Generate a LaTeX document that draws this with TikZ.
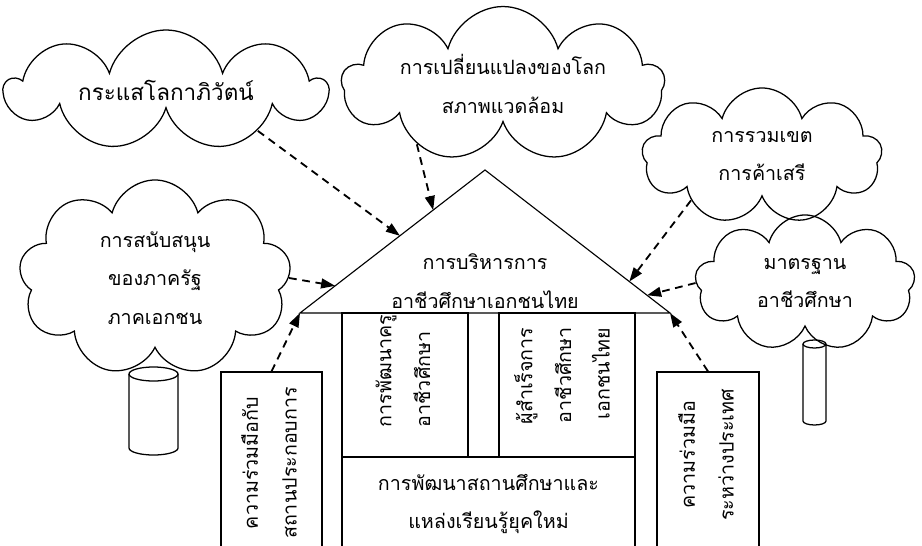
\documentclass[tikz,border=0pt]{standalone}
\usepackage{fontspec}
\newfontfamily\thaifont[Script=Thai]{Loma}
\usetikzlibrary{arrows.meta, shapes.symbols, calc}

\tikzset{
  thai/.style={font=\thaifont\fontsize{14}{27.5}\selectfont},
  puff/.style={cloud, draw, cloud puffs=9, cloud ignores aspect, line width=0.9pt, thai, align=center, inner sep=0pt},
  wall/.style={draw, rectangle, line width=0.8pt, inner sep=0pt},
  upright/.style={thai, rotate=90},
  feed/.style={-{Triangle[length=10pt, width=7pt]}, line width=1.3pt, dash pattern=on 5.5pt off 4pt},
}

\begin{document}
\begin{tikzpicture}[x=0.025cm, y=-0.025cm]
  \useasboundingbox (0,0) rectangle (922,546);
  \clip (0,0) rectangle (922,546);

  % roof
  \coordinate (roofL) at (300,313);
  \coordinate (roofT) at (485,170);
  \coordinate (roofR) at (670,313);
  \draw[line width=0.8pt] (roofL) -- (roofT) -- (roofR) -- cycle;
  \node[thai, align=center] (roofText) at (485,281) {การบริหารการ\\อาชีวศึกษาเอกชนไทย};

  % house body
  \node[wall, minimum width=3.15cm, minimum height=3.6cm] (teacher) at (405,385) {};
  \node[wall, minimum width=3.4cm, minimum height=3.6cm] (grad) at (567,385) {};
  \node[wall, thai, align=center, minimum width=7.325cm, minimum height=2.35cm] (campus) at (488.5,504) {การพัฒนาสถานศึกษาและ\\แหล่งเรียนรู้ยุคใหม่};
  \node[upright, align=left] (teacherText) at (403,371) {การพัฒนาครู\\อาชีวศึกษา};
  \node[upright, align=right] (gradText) at (562,376) {ผู้สำเร็จการ\\อาชีวศึกษา\\เอกชนไทย};

  % side walls
  \node[wall, minimum width=2.525cm, minimum height=4.7cm] (partner) at (271.5,466) {};
  \node[wall, minimum width=2.55cm, minimum height=4.7cm] (intl) at (708,466) {};
  \node[upright, align=center] (partnerText) at (269,463) {ความร่วมมือกับ\\สถานประกอบการ};
  \node[upright, align=center] (intlText) at (706,455) {ความร่วมมือ\\ระหว่างประเทศ};

  % clouds
  \node[puff, minimum width=8cm, minimum height=3cm, font=\thaifont\fontsize{16}{27.5}\selectfont] (trend) at (166,90) {กระแสโลกาภิวัตน์};
  \node[puff, minimum width=8.05cm, minimum height=3.5cm] (change) at (503,84) {การเปลี่ยนแปลงของโลก\\สภาพแวดล้อม};
  \node[puff, minimum width=6cm, minimum height=3.4cm] (trade) at (762,156) {การรวมเขต\\การค้าเสรี};
  \node[puff, minimum width=5.5cm, minimum height=3.4cm] (std) at (805,283) {มาตรฐาน\\อาชีวศึกษา};
  \node[puff, minimum width=6.8cm, minimum height=4.9cm] (support) at (155,278) {การสนับสนุน\\ของภาครัฐ\\ภาคเอกชน};

  % cylinders
  \draw[line width=0.9pt] (153.5,374) ellipse[x radius=0.6125cm, y radius=0.175cm];
  \draw[line width=0.9pt] (129,374) -- (129,448) arc[start angle=180, end angle=360, x radius=0.6125cm, y radius=0.175cm] -- (178,374);
  \draw[line width=0.9pt] (814.5,344) ellipse[x radius=0.2875cm, y radius=0.1cm];
  \draw[line width=0.9pt] (803,344) -- (803,421) arc[start angle=180, end angle=360, x radius=0.2875cm, y radius=0.1cm] -- (826,344);

  % arrows into the roof
  \coordinate (hitTrend) at ($(roofL)!0.54!(roofT)$);
  \coordinate (hitChange) at ($(roofL)!0.72!(roofT)$);
  \coordinate (hitSupport) at ($(roofL)!0.19!(roofT)$);
  \coordinate (hitTrade) at ($(roofT)!0.78!(roofR)$);
  \coordinate (hitStd) at ($(roofT)!0.876!(roofR)$);

  \draw[feed] (trend.-24) -- (hitTrend);
  \draw[feed] (change.-145) -- (hitChange);
  \draw[feed] (trade.212) -- (hitTrade);
  \draw[feed] (std.west) -- (hitStd);
  \draw[feed] (support.east) -- (hitSupport);
  \draw[feed] (partner.north) -- (roofL);
  \draw[feed] (intl.north) -- (roofR);
\end{tikzpicture}
\end{document}
